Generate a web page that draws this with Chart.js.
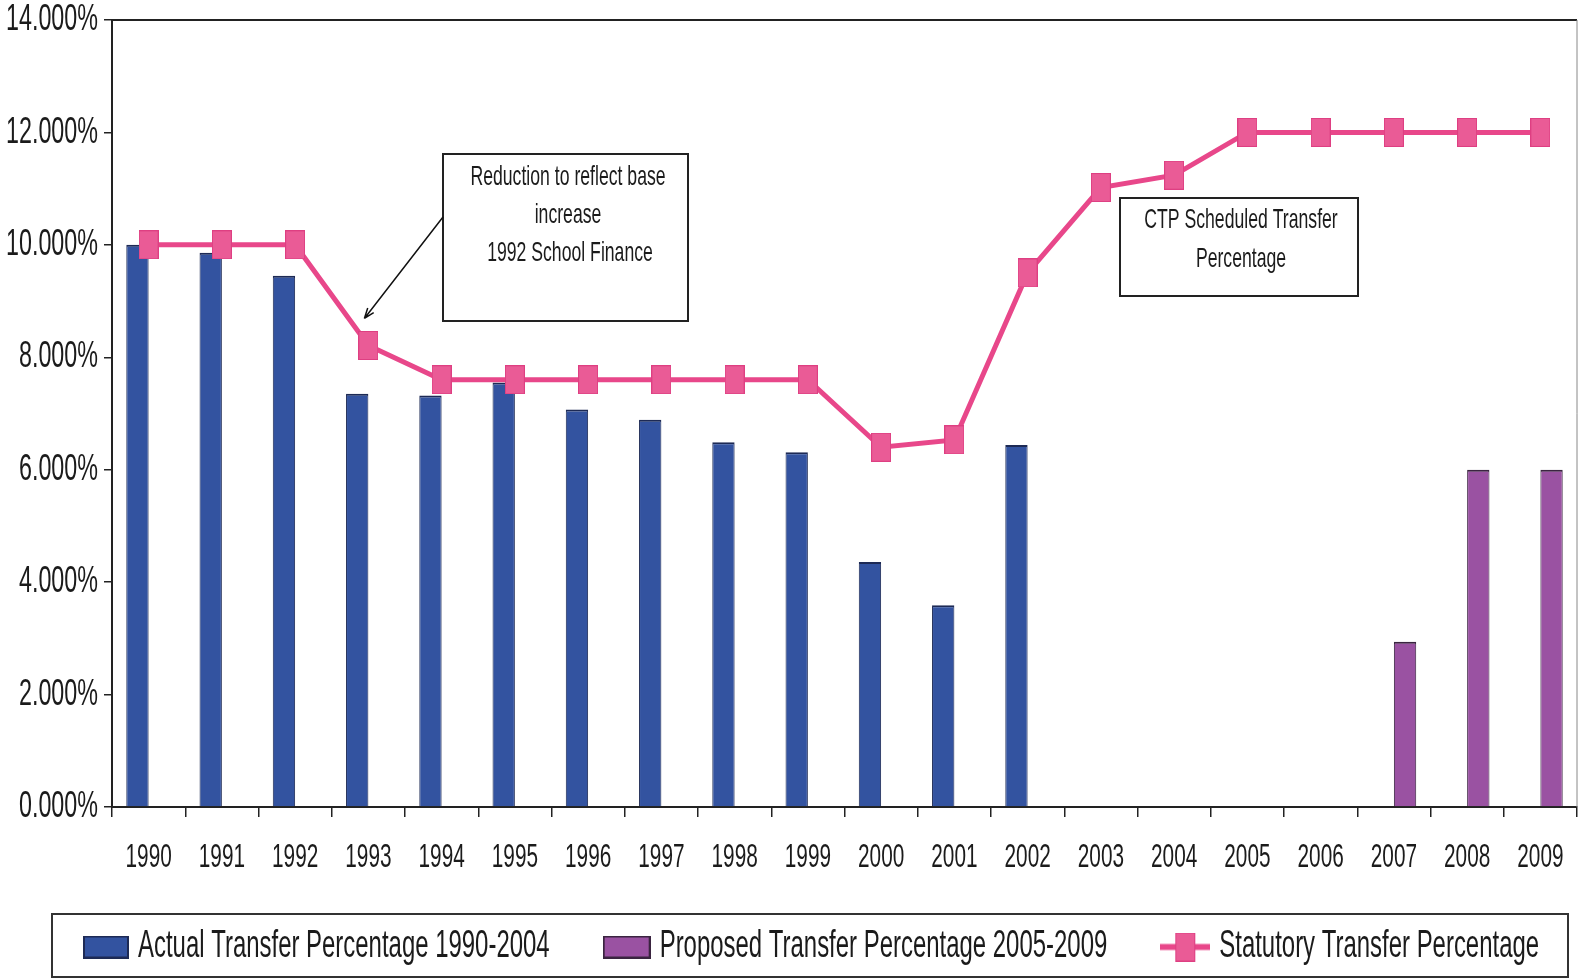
<!DOCTYPE html>
<html>
<head>
<meta charset="utf-8">
<script src="https://cdn.jsdelivr.net/npm/chart.js@4.4.1/dist/chart.umd.min.js"></script>
<style>
  html, body { margin: 0; padding: 0; background: #fff; }
  canvas { display: block; }
</style>
</head>
<body>
<canvas id="transferChart" width="1579" height="980"></canvas>
<script>
const years = ['1990', '1991', '1992', '1993', '1994', '1995', '1996', '1997', '1998', '1999',
               '2000', '2001', '2002', '2003', '2004', '2005', '2006', '2007', '2008', '2009'];

// values in percent
const actualTransfer = [10.0, 9.86, 9.45, 7.35, 7.32, 7.55, 7.07, 6.89, 6.49, 6.31,
                        4.36, 3.59, 6.44, null, null, null, null, null, null, null];
const proposedTransfer = [null, null, null, null, null, null, null, null, null, null,
                          null, null, null, null, null, null, null, 2.94, 6.0, 6.0];
const statutoryTransfer = [10.0, 10.0, 10.0, 8.21, 7.6, 7.6, 7.6, 7.6, 7.6, 7.6,
                           6.4, 6.53, 9.5, 11.02, 11.24, 12.0, 12.0, 12.0, 12.0, 12.0];

const seriesNames = ['Actual Transfer Percentage 1990-2004',
                     'Proposed Transfer Percentage 2005-2009',
                     'Statutory Transfer Percentage'];

const FONT = "'Liberation Sans', Arial, sans-serif";
const SQUEEZE = 0.63;   // the original uses a very narrow face
const TEXT = '#1b1b1b';
const BLUE = '#3353a0';
const PURPLE = '#9a52a2';
const PINK_LINE = '#e8478a';
const PINK_MARK = '#ea5b96';

function makeIcon(w, h, draw) {
    const c = document.createElement('canvas');
    c.width = w;
    c.height = h;
    draw(c.getContext('2d'));
    return c;
}

const marker = makeIcon(20, 29, g => {
    g.fillStyle = PINK_MARK;
    g.fillRect(0, 0, 20, 29);
    g.strokeStyle = '#de3f82';
    g.lineWidth = 1;
    g.strokeRect(0.5, 0.5, 19, 28);
});

const legendIcons = [
    makeIcon(46, 23, g => {
        g.fillStyle = BLUE;
        g.fillRect(0, 0, 46, 23);
        g.strokeStyle = '#1d2a55';
        g.lineWidth = 2;
        g.strokeRect(1, 1, 44, 21);
    }),
    makeIcon(48, 23, g => {
        g.fillStyle = PURPLE;
        g.fillRect(0, 0, 48, 23);
        g.strokeStyle = '#3a2440';
        g.lineWidth = 2;
        g.strokeRect(1, 1, 46, 21);
    }),
    makeIcon(50, 29, g => {
        g.strokeStyle = PINK_LINE;
        g.lineWidth = 6;
        g.beginPath();
        g.moveTo(0, 14.5);
        g.lineTo(50, 14.5);
        g.stroke();
        g.drawImage(marker, 15, 0);
    })
];

// narrow text: normal face squeezed horizontally
function narrowText(c, str, x, y, size, align) {
    c.save();
    c.translate(x, y);
    c.scale(SQUEEZE, 1);
    c.font = size + 'px ' + FONT;
    c.fillStyle = TEXT;
    c.textAlign = align || 'center';
    c.textBaseline = 'middle';
    c.fillText(str, 0, 0);
    c.restore();
}

function narrowWidth(c, str, size) {
    c.save();
    c.font = size + 'px ' + FONT;
    const w = c.measureText(str).width * SQUEEZE;
    c.restore();
    return w;
}

const decorations = {
    id: 'decorations',
    afterDraw(chart) {
        const c = chart.ctx;
        const area = chart.chartArea;
        const xs = chart.scales.x;
        const ys = chart.scales.y;
        c.save();

        // plot frame (top + right)
        c.strokeStyle = '#222';
        c.lineWidth = 2;
        c.beginPath();
        c.moveTo(area.left, area.top);
        c.lineTo(area.right, area.top);
        c.stroke();
        c.lineWidth = 1;
        c.strokeStyle = '#888';
        c.beginPath();
        c.moveTo(area.right, area.top);
        c.lineTo(area.right, area.bottom);
        c.stroke();

        // tick labels, placed by the scales
        ys.ticks.forEach((t, i) => {
            narrowText(c, t.value.toFixed(3) + '%', area.left - 14, ys.getPixelForTick(i), 37, 'right');
        });
        xs.ticks.forEach((t, i) => {
            narrowText(c, years[i], xs.getPixelForTick(i), 858, 33);
        });

        // legend
        const legendY = 947;
        let lx = 83;
        seriesNames.forEach((name, i) => {
            const icon = legendIcons[i];
            c.drawImage(icon, lx, legendY - icon.height / 2);
            lx += icon.width + 9;
            narrowText(c, name, lx, legendY, 38, 'left');
            lx += narrowWidth(c, name, 38) + 53;
        });
        c.strokeStyle = '#333';
        c.lineWidth = 2;
        c.strokeRect(52, 914, 1516, 63);

        // callout boxes
        c.fillStyle = '#fff';
        c.strokeStyle = '#222';
        c.lineWidth = 2;
        c.fillRect(443, 154, 245, 167);
        c.strokeRect(443, 154, 245, 167);
        c.fillRect(1120, 198, 238, 98);
        c.strokeRect(1120, 198, 238, 98);

        narrowText(c, 'Reduction to reflect base', 568, 177, 28);
        narrowText(c, 'increase', 568, 215, 28);
        narrowText(c, '1992 School Finance', 570, 253, 28);
        narrowText(c, 'CTP Scheduled Transfer', 1241, 220, 28);
        narrowText(c, 'Percentage', 1241, 259, 28);

        // arrow towards the 1993 point
        const px = xs.getPixelForValue(3) - 4;
        const py = ys.getPixelForValue(statutoryTransfer[3]) - 27;
        const sx = 443, sy = 217;
        const ang = Math.atan2(py - sy, px - sx);
        c.strokeStyle = '#111';
        c.lineWidth = 1.5;
        c.beginPath();
        c.moveTo(sx, sy);
        c.lineTo(px, py);
        c.moveTo(px, py);
        c.lineTo(px - 11 * Math.cos(ang - 0.35), py - 11 * Math.sin(ang - 0.35));
        c.moveTo(px, py);
        c.lineTo(px - 11 * Math.cos(ang + 0.35), py - 11 * Math.sin(ang + 0.35));
        c.stroke();
        c.restore();
    }
};

const ctx = document.getElementById('transferChart').getContext('2d');

const transferChart = new Chart(ctx, {
    type: 'bar',
    data: {
        labels: years,
        datasets: [
            {
                label: seriesNames[0],
                data: actualTransfer,
                backgroundColor: BLUE,
                borderColor: '#1d2a55',
                borderWidth: { top: 2, left: 1, right: 1, bottom: 0 },
                borderSkipped: 'bottom',
                categoryPercentage: 0.61,
                barPercentage: 1.0,
                order: 1
            },
            {
                label: seriesNames[1],
                data: proposedTransfer,
                backgroundColor: PURPLE,
                borderColor: '#3a2440',
                borderWidth: { top: 2, left: 1, right: 1, bottom: 0 },
                borderSkipped: 'bottom',
                categoryPercentage: 0.61,
                barPercentage: 1.0,
                order: 2
            },
            {
                type: 'line',
                label: seriesNames[2],
                data: statutoryTransfer,
                borderColor: PINK_LINE,
                borderWidth: 5,
                pointStyle: marker,
                pointRadius: 10,
                tension: 0,
                fill: false,
                clip: false,
                order: 0
            }
        ]
    },
    options: {
        responsive: false,
        animation: false,
        layout: {
            autoPadding: false,
            padding: { left: 0, right: 2, top: 20, bottom: 0 }
        },
        scales: {
            x: {
                offset: true,
                grid: {
                    offset: true,
                    drawOnChartArea: false,
                    drawTicks: true,
                    tickLength: 10,
                    color: '#222',
                    lineWidth: 1.5
                },
                border: { display: true, color: '#222', width: 2 },
                ticks: { display: false, autoSkip: false },
                afterFit(scale) {
                    scale.height = 173;
                    scale.paddingLeft = 0;
                    scale.paddingRight = 0;
                }
            },
            y: {
                min: 0,
                max: 14,
                grid: {
                    drawOnChartArea: false,
                    drawTicks: true,
                    tickLength: 8,
                    color: '#222',
                    lineWidth: 1.5
                },
                border: { display: true, color: '#222', width: 2 },
                ticks: { display: false, stepSize: 2 },
                afterFit(scale) {
                    scale.width = 112;
                    scale.paddingTop = 0;
                    scale.paddingBottom = 0;
                }
            }
        },
        plugins: {
            legend: { display: false },
            tooltip: { enabled: false }
        }
    },
    plugins: [decorations]
});
</script>
</body>
</html>
